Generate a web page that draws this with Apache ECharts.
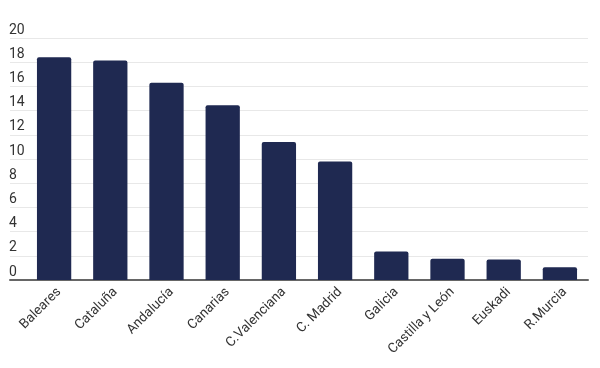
<!DOCTYPE html>
<html>
<head>
<meta charset="utf-8">
<script src="https://cdn.jsdelivr.net/npm/echarts@6/dist/echarts.min.js"></script>
<style>html,body{margin:0;padding:0;background:#fff}#c{width:600px;height:368px}</style>
</head>
<body>
<div id="c"></div>
<script>
var categories = ['Baleares','Cataluña','Andalucía','Canarias','C.Valenciana','C. Madrid','Galicia','Castilla y León','Euskadi','R.Murcia'];
var values = [18.4, 18.15, 16.3, 14.45, 11.4, 9.8, 2.35, 1.75, 1.7, 1.05];
var yTicks = {min: 0, max: 20, interval: 2};

var chart = echarts.init(document.getElementById('c'), null, {renderer: 'canvas'});
chart.setOption({
  animation: false,
  backgroundColor: '#ffffff',
  textStyle: {fontFamily: 'Roboto'},
  grid: [
    {left: 10, right: 12, top: 38, bottom: 88},
    {left: 26, right: 12, top: 38, bottom: 88}
  ],
  xAxis: [
    {gridIndex: 0, type: 'value', min: 0, max: 1,
      axisLine: {show: true, onZero: false, lineStyle: {color: '#666666', width: 2}},
      axisTick: {show: false}, axisLabel: {show: false}, splitLine: {show: false}},
    {gridIndex: 1, type: 'category', data: categories,
      axisLine: {show: false}, axisTick: {show: false},
      axisLabel: {rotate: 45, margin: 5, verticalAlign: 'top', color: '#333333', fontSize: 13.5, fontFamily: 'Roboto', interval: 0}}
  ],
  yAxis: [
    {gridIndex: 0, type: 'value', min: yTicks.min, max: yTicks.max, interval: yTicks.interval,
      axisLine: {show: false}, axisTick: {show: false},
      axisLabel: {inside: true, margin: -1, verticalAlign: 'bottom', lineHeight: 14, padding: [0,0,1,0],
        color: '#333333', fontSize: 14, fontFamily: 'Roboto'},
      splitLine: {show: true, lineStyle: {color: '#e8e8e8', width: 1}}},
    {gridIndex: 1, type: 'value', min: yTicks.min, max: yTicks.max, interval: yTicks.interval, show: false}
  ],
  series: [{
    type: 'bar', xAxisIndex: 1, yAxisIndex: 1, data: values,
    barCategoryGap: '39%',
    itemStyle: {color: '#1f2951', borderRadius: [2,2,0,0]}
  }]
});
</script>
</body>
</html>
